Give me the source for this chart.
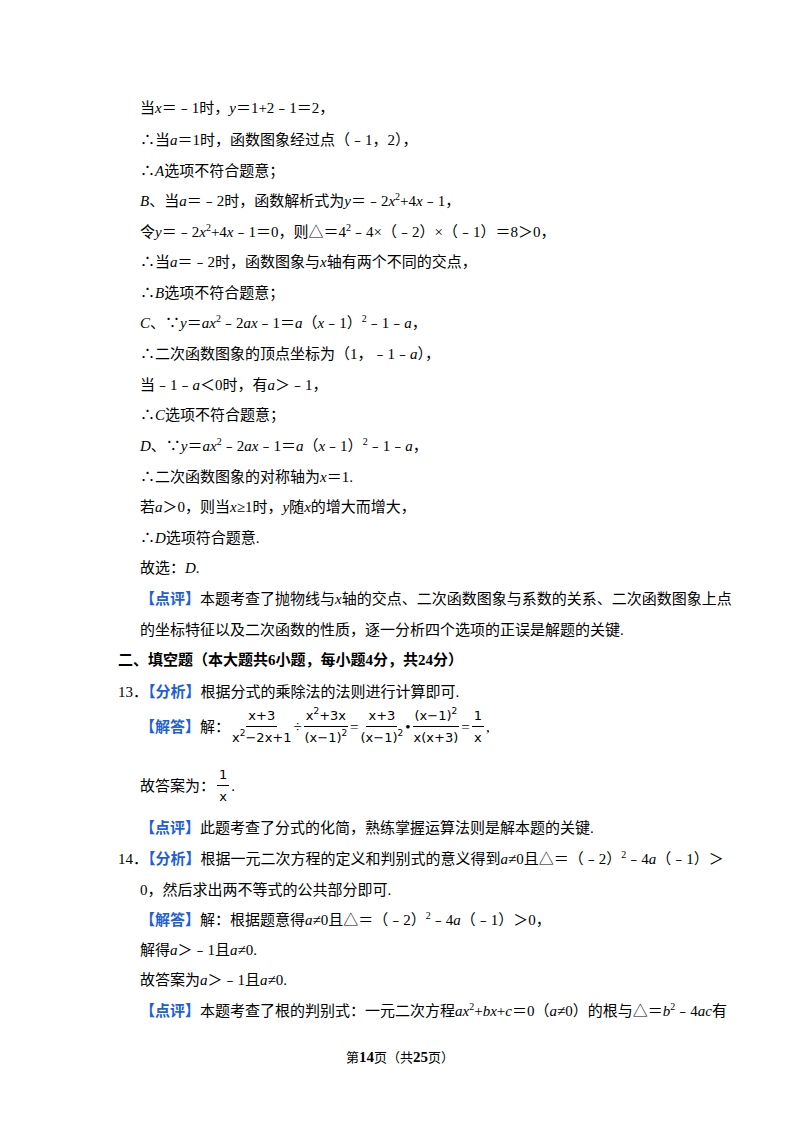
<!DOCTYPE html>
<html><head><meta charset="utf-8">
<script src="https://cdn.jsdelivr.net/npm/chart.js@4"></script>
<style>
body{margin:0;width:800px;height:1132px;background:#fff;font-family:"Liberation Serif","Noto Sans CJK SC";font-size:15px;color:#000;position:relative}
.l{position:absolute;left:140px;white-space:nowrap;line-height:20px}
i{font-family:"Liberation Serif";font-style:italic}
.bb{color:#1f5fd6;font-weight:bold}
.fr{display:inline-flex;flex-direction:column;align-items:center;vertical-align:middle;font-family:"DejaVu Sans";font-size:13px;margin:0 2px;line-height:18px}
.fr>.t{border-bottom:1px solid #000;padding:0 2px 1px}
.fr>.d{padding-top:2px}
.fr sup{font-size:9px;vertical-align:6px}
sup{font-size:10px;line-height:0}
.row{display:flex;align-items:center}
</style></head><body>
<div class="l" style="top:98px">当<i>x</i>＝﹣1时，<i>y</i>＝1+2﹣1＝2，</div>
<div class="l" style="top:130px">∴当<i>a</i>＝1时，函数图象经过点（﹣1，2），</div>
<div class="l" style="top:161px">∴<i>A</i>选项不符合题意；</div>
<div class="l" style="top:191px"><i>B</i>、当<i>a</i>＝﹣2时，函数解析式为<i>y</i>＝﹣2<i>x</i><sup>2</sup>+4<i>x</i>﹣1，</div>
<div class="l" style="top:222px">令<i>y</i>＝﹣2<i>x</i><sup>2</sup>+4<i>x</i>﹣1＝0，则△＝4<sup>2</sup>﹣4×（﹣2）×（﹣1）＝8＞0，</div>
<div class="l" style="top:252px">∴当<i>a</i>＝﹣2时，函数图象与<i>x</i>轴有两个不同的交点，</div>
<div class="l" style="top:283px">∴<i>B</i>选项不符合题意；</div>
<div class="l" style="top:313px"><i>C</i>、∵<i>y</i>＝<i>ax</i><sup>2</sup>﹣2<i>ax</i>﹣1＝<i>a</i>（<i>x</i>﹣1）<sup>2</sup>﹣1﹣<i>a</i>，</div>
<div class="l" style="top:344px">∴二次函数图象的顶点坐标为（1，﹣1﹣<i>a</i>），</div>
<div class="l" style="top:375px">当﹣1﹣<i>a</i>＜0时，有<i>a</i>＞﹣1，</div>
<div class="l" style="top:405px">∴<i>C</i>选项不符合题意；</div>
<div class="l" style="top:436px"><i>D</i>、∵<i>y</i>＝<i>ax</i><sup>2</sup>﹣2<i>ax</i>﹣1＝<i>a</i>（<i>x</i>﹣1）<sup>2</sup>﹣1﹣<i>a</i>，</div>
<div class="l" style="top:467px">∴二次函数图象的对称轴为<i>x</i>＝1.</div>
<div class="l" style="top:497px">若<i>a</i>＞0，则当<i>x</i>≥1时，<i>y</i>随<i>x</i>的增大而增大，</div>
<div class="l" style="top:528px">∴<i>D</i>选项符合题意.</div>
<div class="l" style="top:558px">故选：<i>D</i>.</div>
<div class="l" style="top:589px"><span class="bb">【点评】</span>本题考查了抛物线与<i>x</i>轴的交点、二次函数图象与系数的关系、二次函数图象上点</div>
<div class="l" style="top:620px">的坐标特征以及二次函数的性质，逐一分析四个选项的正误是解题的关键.</div>
<div class="l" style="top:650px;left:118px;font-weight:bold">二、填空题（本大题共6小题，每小题4分，共24分）</div>
<div class="l" style="top:682px;left:118px">13．<span class="bb">【分析】</span>根据分式的乘除法的法则进行计算即可.</div>
<div class="l row" style="top:705px;height:44px"><span class="bb">【解答】</span>解：<span class="fr"><span class="t">x+3</span><span class="d">x<sup>2</sup>−2x+1</span></span>÷<span class="fr"><span class="t">x<sup>2</sup>+3x</span><span class="d">(x−1)<sup>2</sup></span></span>=<span class="fr"><span class="t">x+3</span><span class="d">(x−1)<sup>2</sup></span></span>•<span class="fr"><span class="t">(x−1)<sup>2</sup></span><span class="d">x(x+3)</span></span>=<span class="fr"><span class="t">1</span><span class="d">x</span></span>,</div>
<div class="l row" style="top:764px;height:44px">故答案为：<span class="fr"><span class="t">1</span><span class="d">x</span></span>.</div>
<div class="l" style="top:818px"><span class="bb">【点评】</span>此题考查了分式的化简，熟练掌握运算法则是解本题的关键.</div>
<div class="l" style="top:849px;left:118px">14．<span class="bb">【分析】</span>根据一元二次方程的定义和判别式的意义得到<i>a</i>≠0且△＝（﹣2）<sup>2</sup>﹣4<i>a</i>（﹣1）＞</div>
<div class="l" style="top:880px">0，然后求出两不等式的公共部分即可.</div>
<div class="l" style="top:910px"><span class="bb">【解答】</span>解：根据题意得<i>a</i>≠0且△＝（﹣2）<sup>2</sup>﹣4<i>a</i>（﹣1）＞0，</div>
<div class="l" style="top:940px">解得<i>a</i>＞﹣1且<i>a</i>≠0.</div>
<div class="l" style="top:970px">故答案为<i>a</i>＞﹣1且<i>a</i>≠0.</div>
<div class="l" style="top:1001px"><span class="bb">【点评】</span>本题考查了根的判别式：一元二次方程<i>ax</i><sup>2</sup>+<i>bx</i>+<i>c</i>＝0（<i>a</i>≠0）的根与△＝<i>b</i><sup>2</sup>﹣4<i>ac</i>有</div>
<div class="l" style="top:1047px;left:0;width:800px;text-align:center;font-size:13px">第<b style="font-size:15px">14</b>页（共<b style="font-size:15px">25</b>页）</div>
</body></html>
